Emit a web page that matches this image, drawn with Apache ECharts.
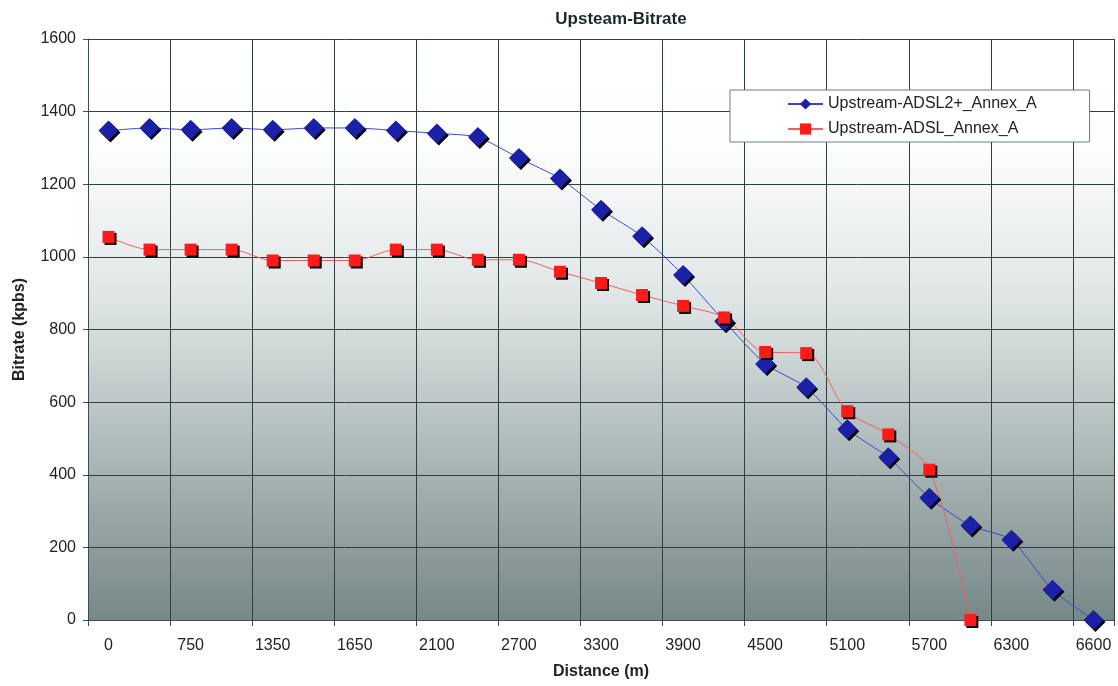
<!DOCTYPE html>
<html><head><meta charset="utf-8">
<script src="https://cdn.jsdelivr.net/npm/echarts@6/dist/echarts.min.js"></script>
<style>html,body{margin:0;padding:0;background:#fff}#c{width:1118px;height:686px}</style>
</head><body><div id="c"></div>
<script>
const categories = ['0','300','750','1050','1350','1500','1650','1800','2100','2400','2700','3000','3300','3600','3900','4200','4500','4800','5100','5400','5700','6000','6300','6450','6600'];
const adsl2Values = [1348,1355,1350,1355,1350,1355,1355,1348,1340,1330,1272,1216,1130,1057,950,823,705,641,525,448,337,260,221,83,0];
const adslValues = [1055,1020,1020,1020,990,990,990,1020,1020,992,992,959,928,895,865,833,738,735,575,511,414,0,null,null,null];
const seriesNames = ['Upstream-ADSL2+_Annex_A','Upstream-ADSL_Annex_A'];

const chart = echarts.init(document.getElementById('c'));
const font = 'Liberation Sans, Arial, sans-serif';
chart.setOption({
  animation:false,
  title:{text:'Upsteam-Bitrate',left:616,top:6,textAlign:'center',
    textStyle:{fontFamily:font,fontSize:17,fontWeight:'bold',color:'#1a2a2a'}},
  legend:{orient:'vertical',left:730,top:90,padding:[6,53,5,57],
    backgroundColor:'#fff',borderColor:'#6f7f7f',borderWidth:1,itemGap:9,itemWidth:35,itemHeight:14,
    textStyle:{fontFamily:font,fontSize:16,color:'#222'},
    data:seriesNames},
  grid:{left:88,right:4,top:39,bottom:66,show:true,
    backgroundColor:{type:'linear',x:0,y:0,x2:0,y2:1,colorStops:[
      {offset:0,color:'#ffffff'},{offset:0.18,color:'#fdfefe'},{offset:0.45,color:'#dfe5e5'},{offset:1,color:'#768888'}]},
    borderColor:'#555',borderWidth:0},
  xAxis:{type:'category',data:categories,boundaryGap:true,
    name:'Distance (m)',nameLocation:'middle',nameGap:44,
    nameTextStyle:{fontFamily:font,fontSize:16,fontWeight:'bold',color:'#222'},
    axisLine:{show:true,lineStyle:{color:'#3d4d4d',width:1}},
    axisTick:{show:true,interval:1,length:6,lineStyle:{color:'#3d4d4d'}},
    axisLabel:{interval:1,margin:18,fontFamily:font,fontSize:16,color:'#222'},
    splitLine:{show:true,interval:1,lineStyle:{color:'#2f3f3f',width:1}}},
  yAxis:{type:'value',min:0,max:1600,interval:200,
    name:'Bitrate (kpbs)',nameLocation:'middle',nameGap:60,nameRotate:90,
    nameTextStyle:{fontFamily:font,fontSize:16,fontWeight:'bold',color:'#222'},
    axisLine:{show:true,lineStyle:{color:'#3d4d4d',width:1}},
    axisTick:{show:true,length:5,lineStyle:{color:'#3d4d4d'}},
    axisLabel:{margin:12,fontFamily:font,fontSize:16,color:'#222',formatter:v=>String(v)},
    splitLine:{show:true,lineStyle:{color:'#2f3f3f',width:1}}},
  series:[
    {name:seriesNames[0],type:'line',data:adsl2Values,smooth:0.2,
     symbol:'diamond',symbolSize:20,
     lineStyle:{color:'#3c46d0',width:1},
     itemStyle:{color:'#1c20a6',shadowColor:'#000',shadowOffsetX:2,shadowOffsetY:2,shadowBlur:0}},
    {name:seriesNames[1],type:'line',data:adslValues,smooth:0.3,
     symbol:'rect',symbolSize:12,
     lineStyle:{color:'#f06060',width:1},
     itemStyle:{color:'#ff1a1a',shadowColor:'#000',shadowOffsetX:2,shadowOffsetY:2,shadowBlur:0}}
  ]
});
</script></body></html>
